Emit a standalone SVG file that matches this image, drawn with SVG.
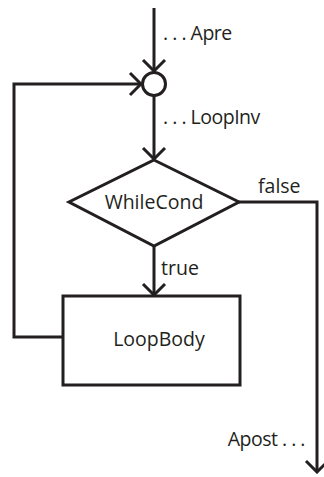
<svg xmlns="http://www.w3.org/2000/svg" width="324" height="477" viewBox="0 0 324 477">
  <style>
    .ln { fill: none; stroke: #231f20; stroke-width: 3; }
    .nd { fill: #ffffff; stroke: #231f20; stroke-width: 3; }
    .tx { font-family: "Open Sans", "Liberation Sans", sans-serif; font-size: 19.5px; fill: #231f20; }
  </style>
  <defs>
    <marker id="arr" viewBox="-13 -13 15 26" markerWidth="15" markerHeight="26" refX="0" refY="0" orient="auto" markerUnits="userSpaceOnUse">
      <path d="M -11 -11 L 0 0 L -11 11" fill="none" stroke="#231f20" stroke-width="3"/>
    </marker>
  </defs>

  <g id="connectors">
    <!-- entry into the join point -->
    <path class="ln" d="M 154 8 L 154 71" marker-end="url(#arr)"/>
    <!-- join point to condition -->
    <path class="ln" d="M 154 96 L 154 159" marker-end="url(#arr)"/>
    <!-- true branch -->
    <path class="ln" d="M 154 246 L 154 295" marker-end="url(#arr)"/>
    <!-- back edge from body to join point -->
    <path class="ln" d="M 63 337 L 14 337 L 14 84 L 141 84" marker-end="url(#arr)"/>
    <!-- false branch / exit -->
    <path class="ln" d="M 239 202 L 317 202 L 317 472" marker-end="url(#arr)"/>
  </g>

  <g id="join">
    <circle class="nd" cx="154" cy="84" r="11.5"/>
  </g>

  <g id="whilecond">
    <polygon class="nd" points="154,160 239,202 154,246 69,202"/>
    <text class="tx" x="154" y="209" text-anchor="middle">WhileCond</text>
  </g>

  <g id="loopbody">
    <rect class="nd" x="63" y="296" width="177" height="89"/>
    <text class="tx" x="159" y="346" text-anchor="middle">LoopBody</text>
  </g>

  <g id="labels">
    <text class="tx" x="163" y="40" letter-spacing="-0.5">. . . Apre</text>
    <text class="tx" x="163" y="124" letter-spacing="-0.5">. . . LoopInv</text>
    <text class="tx" x="258" y="193">false</text>
    <text class="tx" x="161" y="275">true</text>
    <text class="tx" x="305" y="446" text-anchor="end" letter-spacing="-0.5">Apost . . .</text>
  </g>
</svg>
